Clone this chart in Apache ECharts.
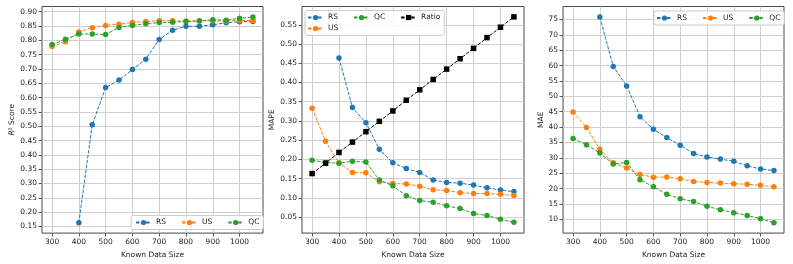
<!DOCTYPE html>
<html>
<head>
<meta charset="utf-8">
<script src="https://cdn.jsdelivr.net/npm/echarts@6/dist/echarts.min.js"></script>
<style>html,body{margin:0;padding:0;background:#fff;}#c{width:793px;height:264px;}</style>
</head>
<body>
<div id="c"></div>
<script>
const xs = [300,350,400,450,500,550,600,650,700,750,800,850,900,950,1000,1050];
const xTicks = [300,400,500,600,700,800,900,1000];

const r2_RS = [null,null,0.163,0.505,0.635,0.661,0.698,0.734,0.803,0.835,0.849,0.849,0.854,0.861,0.865,0.866];
const r2_US = [0.778,0.795,0.829,0.844,0.852,0.856,0.862,0.866,0.868,0.868,0.867,0.868,0.868,0.867,0.870,0.869];
const r2_QC = [0.785,0.804,0.822,0.822,0.820,0.845,0.852,0.858,0.862,0.863,0.866,0.867,0.872,0.870,0.877,0.881];
const r2Ticks = [0.15,0.20,0.25,0.30,0.35,0.40,0.45,0.50,0.55,0.60,0.65,0.70,0.75,0.80,0.85,0.90];

const mape_RS = [null,null,0.464,0.335,0.295,0.226,0.191,0.176,0.166,0.146,0.140,0.138,0.133,0.126,0.120,0.116];
const mape_US = [0.333,0.247,0.191,0.166,0.165,0.142,0.137,0.136,0.130,0.121,0.119,0.113,0.111,0.111,0.109,0.106];
const mape_QC = [0.198,0.192,0.190,0.195,0.193,0.146,0.131,0.105,0.093,0.088,0.079,0.072,0.059,0.054,0.044,0.036];
const mape_Ratio = [0.163,0.190,0.218,0.245,0.272,0.299,0.326,0.354,0.381,0.408,0.435,0.462,0.489,0.517,0.544,0.571];
const mapeTicks = [0.05,0.10,0.15,0.20,0.25,0.30,0.35,0.40,0.45,0.50,0.55];

const mae_RS = [null,null,75.8,59.7,53.4,43.4,39.3,36.6,34.1,31.4,30.3,29.6,28.9,27.4,26.4,25.9];
const mae_US = [44.9,39.9,32.8,28.4,26.7,24.6,23.7,23.8,23.2,22.3,22.0,21.8,21.6,21.4,21.1,20.6];
const mae_QC = [36.3,34.3,31.6,28.0,28.5,22.9,20.6,18.2,16.7,15.8,14.3,13.1,12.2,11.3,10.2,8.9];
const maeTicks = [10,15,20,25,30,35,40,45,50,55,60,65,70,75];

const C = {RS:'#1f77b4', US:'#ff7f0e', QC:'#2ca02c', Ratio:'#000000'};
const FONT = 'DejaVu Sans';
const FS = 7.5;
const TXT = '#222';

function pts(arr){ return xs.map((x,i)=>[x, arr[i]]).filter(p=>p[1]!==null); }

function grid(left, width){ return {left:left, top:6.5, width:width, height:227, show:true, borderColor:'#333', borderWidth:0.9, backgroundColor:'transparent'}; }

function xAxis(gi){
  return {
    type:'value', gridIndex:gi, min:262.5, max:1087.5,
    name:'Known Data Size', nameLocation:'middle', nameGap:15,
    nameTextStyle:{fontFamily:FONT, fontSize:FS, color:TXT},
    axisLine:{show:false},
    axisTick:{show:true, length:3.5, lineStyle:{color:'#333', width:0.8}, customValues:xTicks},
    axisLabel:{fontFamily:FONT, fontSize:FS, color:TXT, margin:5, customValues:xTicks,
      formatter:(v)=>String(Math.round(v))},
    splitLine:{show:true, lineStyle:{color:'#cfcfcf', width:1}}
  };
}
function yAxis(gi, min, max, ticks, dec, name, gap, rich){
  return {
    type:'value', gridIndex:gi, min:min, max:max,
    name:name, nameLocation:'middle', nameGap:gap, nameRotate:90,
    nameTextStyle:{fontFamily:FONT, fontSize:FS, color:TXT, rich:rich},
    axisLine:{show:false},
    axisTick:{show:true, length:3.5, lineStyle:{color:'#333', width:0.8}, customValues:ticks},
    axisLabel:{fontFamily:FONT, fontSize:FS, color:TXT, margin:5, customValues:ticks,
      formatter:(v)=> dec>0 ? Number(v).toFixed(dec) : String(Math.round(v))},
    splitLine:{show:true, lineStyle:{color:'#cfcfcf', width:1}}
  };
}
function line(name, arr, gi, symbol){
  return {
    type:'line', name:name, xAxisIndex:gi, yAxisIndex:gi, data:pts(arr),
    symbol:symbol||'circle', symbolSize:5.5,
    showSymbol:true, animation:false,
    lineStyle:{color:C[name], width:1, type:[3.5,1.5]},
    itemStyle:{color:C[name]},
    emphasis:{disabled:true}
  };
}
const legBase = {
  orient:'horizontal', itemWidth:15, itemHeight:6.5, itemGap:15,
  textStyle:{fontFamily:FONT, fontSize:FS, color:TXT, lineHeight:9},
  backgroundColor:'rgba(255,255,255,0.85)', borderColor:'#cccccc', borderWidth:1, borderRadius:2,
  selectedMode:false
};

const option = {
  animation:false,
  backgroundColor:'#ffffff',
  grid:[grid(42,221), grid(302,222), grid(563,221)],
  xAxis:[xAxis(0), xAxis(1), xAxis(2)],
  yAxis:[
    yAxis(0, 0.127, 0.918, r2Ticks, 2, '{i|R}² Score', 25, {i:{fontStyle:'italic', fontFamily:FONT, fontSize:FS, color:TXT}}),
    yAxis(1, 0.008, 0.598, mapeTicks, 2, 'MAPE', 23),
    yAxis(2, 5.55, 79.2, maeTicks, 0, 'MAE', 16.5)
  ],
  legend:[
    Object.assign({}, legBase, {data:['RS','US','QC'], left:131, top:215.5, padding:[2.5,4,2.5,4]}),
    Object.assign({}, legBase, {data:['RS','QC','Ratio'], left:305, top:10.5, padding:[2.5,4,13.5,2]}),
    Object.assign({}, legBase, {data:['US'], left:307, top:24, padding:0, backgroundColor:'transparent', borderWidth:0}),
    Object.assign({}, legBase, {data:['RS','US','QC'], left:654, top:11, padding:[2.5,4,2.5,2]})
  ],
  series:[
    line('RS', r2_RS, 0), line('US', r2_US, 0), line('QC', r2_QC, 0),
    line('RS', mape_RS, 1), line('US', mape_US, 1), line('QC', mape_QC, 1), line('Ratio', mape_Ratio, 1, 'rect'),
    line('RS', mae_RS, 2), line('US', mae_US, 2), line('QC', mae_QC, 2)
  ]
};
const chart = echarts.init(document.getElementById('c'), null, {renderer:'canvas'});
chart.setOption(option);
</script>
</body>
</html>
